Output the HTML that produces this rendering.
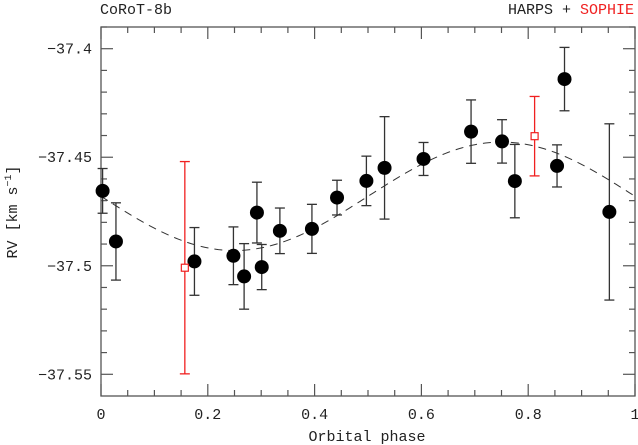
<!DOCTYPE html>
<html><head><meta charset="utf-8"><style>
html,body{margin:0;padding:0;background:#fff;}
svg{display:block;font-family:"Liberation Mono","DejaVu Sans Mono",monospace;}
</style></head><body>
<svg id="chart" width="638" height="445" viewBox="0 0 638 445">
<text x="100" y="14" font-size="15" fill="#222">CoRoT-8b</text>
<g>
<text x="634" y="14" font-size="15" text-anchor="end"><tspan fill="#222">HARPS + </tspan><tspan fill="#f02020">SOPHIE</tspan></text>
</g>
<text x="367" y="441" font-size="15" text-anchor="middle" fill="#222">Orbital phase</text>
<text transform="translate(17,212) rotate(-90)" font-size="15" text-anchor="middle" fill="#222">RV [km s<tspan dy="-6" font-size="10">−1</tspan><tspan dy="6">]</tspan></text>
<g id="axes"></g>
<g id="model"></g>
<g id="marks"></g>
</svg>
<script>
const harpsPhase=[0.003,0.028,0.175,0.248,0.268,0.292,0.301,0.335,0.395,0.442,0.497,0.531,0.604,0.693,0.751,0.775,0.854,0.868,0.952];
const harpsRV=[-37.4655,-37.4888,-37.498,-37.4954,-37.5049,-37.4755,-37.5006,-37.4839,-37.483,-37.4686,-37.4609,-37.4549,-37.4508,-37.4382,-37.4427,-37.461,-37.454,-37.414,-37.4752];
const harpsErr=[0.0103,0.0178,0.0156,0.0133,0.0151,0.014,0.0104,0.0105,0.0113,0.008,0.0114,0.0236,0.0076,0.0146,0.01,0.0169,0.0097,0.0146,0.0406];
const sophiePhase=[0.157,0.812];
const sophieRV=[-37.5009,-37.4403];
const sophieErr=[0.0489,0.0183];
const xTicks=[0,0.2,0.4,0.6,0.8,1];
const xTickLabels=["0","0.2","0.4","0.6","0.8","1"];
const yTicks=[-37.4,-37.45,-37.5,-37.55];
const yTickLabels=["−37.4","−37.45","−37.5","−37.55"];
const modelGamma=-37.468, modelK=0.025;

const NS="http://www.w3.org/2000/svg";
const L=101,R=635,T=27,B=396,yMin=-37.56,yMax=-37.39;
const X=p=>L+p*(R-L);
const Y=v=>B-(v-yMin)/(yMax-yMin)*(B-T);
function mk(tag,at,parent){const e=document.createElementNS(NS,tag);for(const k in at)e.setAttribute(k,at[k]);parent.appendChild(e);return e;}
const axes=document.getElementById('axes'),marks=document.getElementById('marks'),model=document.getElementById('model');
const frame=mk('rect',{x:L,y:T,width:R-L,height:B-T,fill:'none',stroke:'#555','stroke-width':1.3},axes);


// x ticks
for(let i=0;i<=20;i++){const p=i*0.05,x=X(p),len=(i%4===0)?12:6;
 mk('line',{x1:x,y1:B,x2:x,y2:B-len,stroke:'#555','stroke-width':1.2},axes);
 mk('line',{x1:x,y1:T,x2:x,y2:T+len,stroke:'#555','stroke-width':1.2},axes);}
xTicks.forEach((p,i)=>{const t=mk('text',{x:X(p),y:419,'font-size':15,'text-anchor':'middle',fill:'#222'},axes);t.textContent=xTickLabels[i];
 
 });
// y ticks
for(let i=0;i<=16;i++){const v=-37.55+i*0.01,y=Y(v),len=(i%5===0)?12:6;
 mk('line',{x1:L,y1:y,x2:L+len,y2:y,stroke:'#555','stroke-width':1.2},axes);
 mk('line',{x1:R,y1:y,x2:R-len,y2:y,stroke:'#555','stroke-width':1.2},axes);}
yTicks.forEach((v,i)=>{const t=mk('text',{x:92,y:Y(v)+5,'font-size':15,'text-anchor':'end',fill:'#222'},axes);t.textContent=yTickLabels[i];
 
 });
// model curve
let d='';for(let i=0;i<=200;i++){const p=i/200;d+=(i?'L':'M')+X(p).toFixed(2)+' '+Y(modelGamma-modelK*Math.sin(2*Math.PI*p)).toFixed(2);}
const c=mk('path',{d:d,fill:'none',stroke:'#333','stroke-width':1,'stroke-dasharray':'8,6'},model);


function errbar(p,v,e,col){const x=X(p),y1=Y(v+e),y2=Y(v-e);
 const g=mk('g',{stroke:col,'stroke-width':1.3},marks);
 
 
 mk('line',{x1:x,y1:y1,x2:x,y2:y2},g);mk('line',{x1:x-5,y1:y1,x2:x+5,y2:y1},g);mk('line',{x1:x-5,y1:y2,x2:x+5,y2:y2},g);}
harpsPhase.forEach((p,i)=>{errbar(p,harpsRV[i],harpsErr[i],'#333');
 const m=mk('circle',{cx:X(p),cy:Y(harpsRV[i]),r:7,fill:'#000'},marks);
 
 });
sophiePhase.forEach((p,i)=>{errbar(p,sophieRV[i],sophieErr[i],'#f02020');
 const m=mk('rect',{x:X(p)-3.5,y:Y(sophieRV[i])-3.5,width:7,height:7,fill:'#fff',stroke:'#f02020','stroke-width':1.2},marks);
 
 });
</script>
</body></html>
